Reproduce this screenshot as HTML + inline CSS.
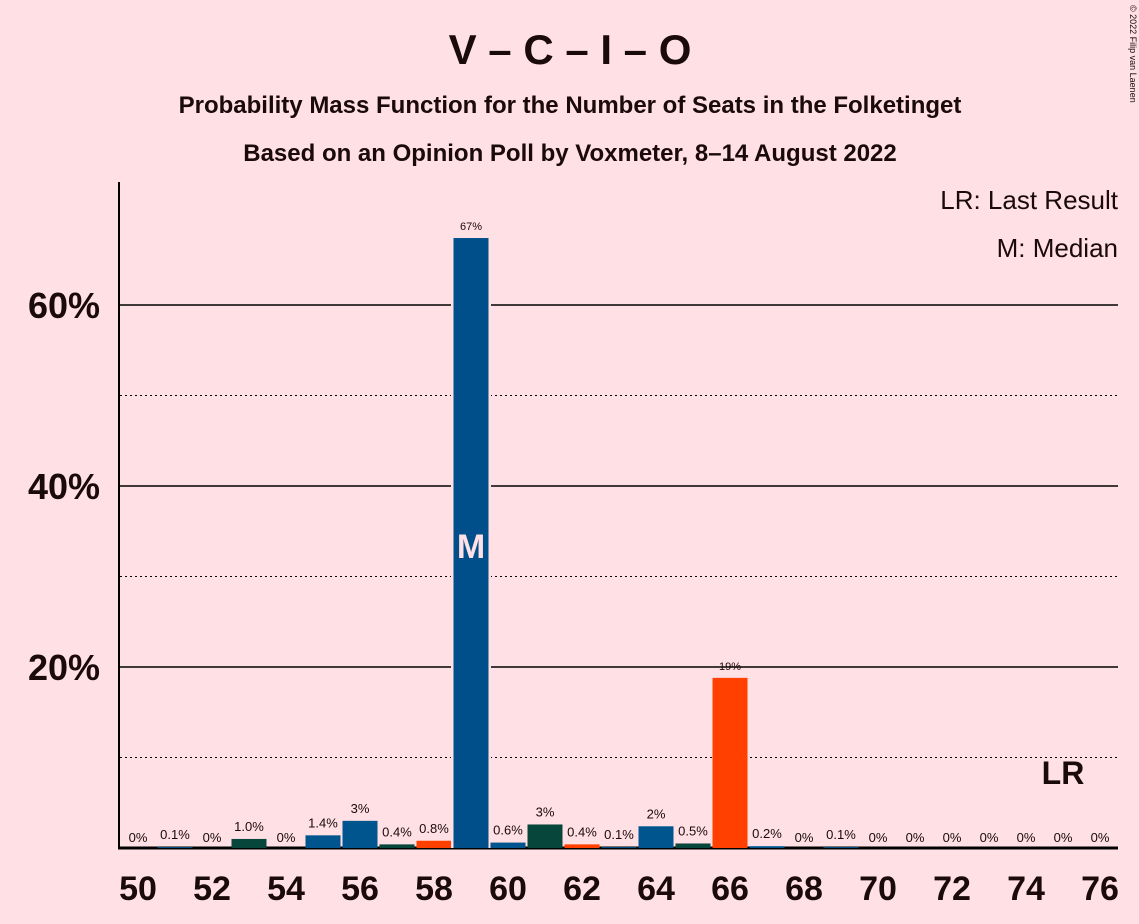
<!DOCTYPE html>
<html><head><meta charset="utf-8"><style>
body{margin:0;background:#ffe0e4;font-family:"Liberation Sans",sans-serif}
svg{display:block}
text{font-family:"Liberation Sans",sans-serif;fill:#1a0a0a}
</style></head><body>
<svg id="c" width="1139" height="924">
<rect width="1139" height="924" fill="#ffe0e4"/>
<text x="570" y="64" text-anchor="middle" font-size="42" font-weight="bold">V – C – I – O</text>
<text x="570" y="113" text-anchor="middle" font-size="24" font-weight="bold">Probability Mass Function for the Number of Seats in the Folketinget</text>
<text x="570" y="161" text-anchor="middle" font-size="24" font-weight="bold">Based on an Opinion Poll by Voxmeter, 8–14 August 2022</text>
<text x="1130" y="5" font-size="9" transform="rotate(90 1130 5)">© 2022 Filip van Laenen</text>
<text x="1118" y="209" text-anchor="end" font-size="26">LR: Last Result</text>
<text x="1118" y="257" text-anchor="end" font-size="26">M: Median</text>
<g id="grid"></g><g id="bars"></g><g id="labels"></g>
</svg>
<script>
const seats=[50,51,52,53,54,55,56,57,58,59,60,61,62,63,64,65,66,67,68,69,70,71,72,73,74,75,76];
const probs=[0,0.1,0,1.0,0,1.4,3.0,0.4,0.8,67.4,0.6,2.6,0.4,0.1,2.4,0.5,18.8,0.2,0,0.1,0,0,0,0,0,0,0];
const valueLabels=["0%","0.1%","0%","1.0%","0%","1.4%","3%","0.4%","0.8%","67%","0.6%","3%","0.4%","0.1%","2%","0.5%","19%","0.2%","0%","0.1%","0%","0%","0%","0%","0%","0%","0%"];
const parties=["","","","C","","V","V","C","O","V","V","C","O","","V","C","O","","","","","","","","","",""];
const yTicks=[20,40,60];
const yMinor=[10,30,50];
const xTickLabels=[50,52,54,56,58,60,62,64,66,68,70,72,74,76];
const medianSeat=59, lastResultSeat=75;
const colors={V:"#00558f",C:"#07463a",O:"#ff4000","":"#00558f"};
const NS="http://www.w3.org/2000/svg";
const x=s=>138+(s-50)*37, y=v=>848-v*9.05;
function mk(t,a,p){const e=document.createElementNS(NS,t);for(const k in a)e.setAttribute(k,a[k]);p.appendChild(e);return e;}
const g=document.getElementById('grid'),b=document.getElementById('bars'),l=document.getElementById('labels');
yTicks.forEach(v=>{const ln=mk('line',{x1:120,x2:1118,y1:y(v),y2:y(v),stroke:'#000','stroke-width':1.5},g);

const t=mk('text',{x:100,y:y(v)+13,'text-anchor':'end','font-size':36,'font-weight':'bold'},l);t.textContent=v+'%';
});
yMinor.forEach(v=>{const ln=mk('line',{x1:120,x2:1118,y1:y(v),y2:y(v),stroke:'#000','stroke-width':1,'stroke-dasharray':'2,3'},g);
});
seats.forEach((s,i)=>{const v=probs[i];
if(s===medianSeat){const bg=mk('rect',{x:x(s)-20,y:y(v)-24,width:40,height:v*9.05+24,fill:'#ffe0e4'},b);
}
if(v>0){const r=mk('rect',{x:x(s)-17.5,y:y(v),width:35,height:v*9.05,fill:s===medianSeat?'#004f8a':colors[parties[i]]},b);
}
const fs=s===medianSeat||s===66?11:13;
const t=mk('text',{x:x(s),y:y(v)-(v>0?8:6),'text-anchor':'middle','font-size':fs},l);t.textContent=valueLabels[i];
});
const m=mk('text',{x:x(medianSeat),y:558,'text-anchor':'middle','font-size':34,'font-weight':'bold',style:'fill:#ffe0e4'},l);m.textContent='M';

const lr=mk('text',{x:x(lastResultSeat),y:784,'text-anchor':'middle','font-size':32,'font-weight':'bold'},l);lr.textContent='LR';

const ya=mk('line',{x1:119,x2:119,y1:182,y2:849,stroke:'#000','stroke-width':2},g);

const xa=mk('line',{x1:118,x2:1118,y1:848,y2:848,stroke:'#000','stroke-width':3},g);

xTickLabels.forEach(s=>{const t=mk('text',{x:x(s),y:900,'text-anchor':'middle','font-size':34,'font-weight':'bold'},l);t.textContent=s;
});
</script>
</body></html>
